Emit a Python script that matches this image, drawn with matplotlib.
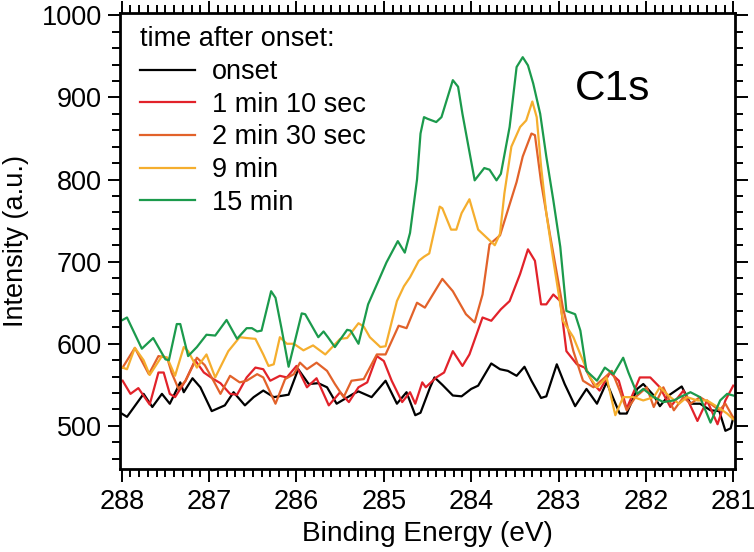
import matplotlib
matplotlib.use("Agg")
import matplotlib.pyplot as plt
from matplotlib.ticker import MultipleLocator

plt.rcParams['font.family'] = ['Liberation Sans', 'DejaVu Sans']

labels = ["onset", "1 min 10 sec", "2 min 30 sec", "9 min", "15 min"]
colors = ["#000000", "#e2222a", "#e2622a", "#f5ae2e", "#1b9a4c"]

e_onset = [288.00, 287.94, 287.75, 287.65, 287.54, 287.45, 287.33, 287.29, 287.19, 287.10,
           286.97, 286.82, 286.72, 286.59, 286.49, 286.38, 286.26, 286.09, 285.98, 285.86,
           285.75, 285.65, 285.54, 285.35, 285.29, 285.14, 284.98, 284.85, 284.74, 284.64,
           284.58, 284.47, 284.42, 284.33, 284.21, 284.11, 284.00, 283.92, 283.77, 283.67,
           283.58, 283.48, 283.39, 283.31, 283.20, 283.14, 283.02, 282.93, 282.81, 282.68,
           282.56, 282.45, 282.30, 282.22, 282.10, 282.03, 281.91, 281.84, 281.74, 281.59,
           281.49, 281.38, 281.26, 281.16, 281.09, 281.03, 281.00]
i_onset = [515, 511, 539, 523, 539, 527, 553, 541, 558, 547,
           518, 525, 541, 525, 535, 543, 535, 538, 569, 551,
           552, 547, 527, 539, 542, 535, 555, 527, 541, 513,
           516, 547, 559, 550, 537, 536, 545, 549, 576, 569,
           567, 561, 572, 555, 534, 536, 575, 551, 524, 545,
           527, 553, 515, 515, 545, 551, 537, 524, 537, 548,
           527, 527, 519, 518, 494, 497, 510]

e_1m10 = [287.99, 287.90, 287.81, 287.68, 287.58, 287.52, 287.45, 287.39, 287.27, 287.16,
          287.06, 286.95, 286.87, 286.76, 286.68, 286.57, 286.47, 286.38, 286.30, 286.19,
          286.11, 286.00, 285.88, 285.77, 285.63, 285.50, 285.40, 285.29, 285.19, 285.08,
          285.00, 284.91, 284.79, 284.70, 284.64, 284.56, 284.52, 284.40, 284.31, 284.21,
          284.10, 284.02, 283.87, 283.77, 283.66, 283.56, 283.44, 283.35, 283.27, 283.20,
          283.14, 283.06, 282.98, 282.91, 282.79, 282.70, 282.60, 282.53, 282.41, 282.31,
          282.22, 282.07, 281.95, 281.84, 281.72, 281.57, 281.41, 281.30, 281.18, 281.09,
          281.00]
i_1m10 = [555, 539, 546, 526, 565, 565, 539, 535, 555, 580,
          565, 557, 552, 539, 538, 559, 571, 569, 555, 561,
          559, 573, 547, 558, 525, 541, 529, 547, 553, 585,
          579, 555, 529, 541, 527, 553, 547, 559, 565, 591,
          573, 587, 632, 628, 642, 652, 685, 715, 701, 648,
          648, 660, 652, 591, 575, 571, 551, 543, 565, 555,
          521, 559, 559, 547, 523, 543, 506, 531, 502, 531,
          549]

e_2m30 = [287.99, 287.85, 287.69, 287.58, 287.48, 287.43, 287.35, 287.27, 287.14, 287.05,
          286.95, 286.87, 286.76, 286.65, 286.57, 286.45, 286.38, 286.24, 286.13, 286.03,
          285.96, 285.88, 285.77, 285.65, 285.56, 285.46, 285.37, 285.23, 285.08, 284.98,
          284.83, 284.74, 284.62, 284.53, 284.33, 284.21, 284.06, 283.96, 283.87, 283.79,
          283.67, 283.48, 283.41, 283.31, 283.27, 283.20, 283.10, 282.95, 282.83, 282.72,
          282.60, 282.47, 282.39, 282.30, 282.22, 282.12, 281.99, 281.91, 281.80, 281.68,
          281.57, 281.49, 281.38, 281.26, 281.16, 281.09, 281.00]
i_2m30 = [571, 595, 563, 585, 583, 565, 545, 555, 583, 574,
          555, 539, 561, 553, 555, 563, 559, 527, 557, 563,
          577, 569, 577, 567, 551, 535, 555, 557, 587, 587,
          622, 619, 650, 644, 679, 664, 636, 626, 660, 721,
          732, 797, 828, 856, 854, 797, 734, 644, 591, 555,
          547, 559, 567, 543, 519, 535, 547, 523, 547, 519,
          535, 527, 535, 527, 519, 527, 510]

e_9m = [287.99, 287.94, 287.85, 287.75, 287.68, 287.54, 287.48, 287.39, 287.29, 287.24,
        287.14, 287.03, 286.93, 286.78, 286.65, 286.57, 286.47, 286.38, 286.32, 286.26,
        286.19, 286.11, 286.03, 285.92, 285.81, 285.67, 285.50, 285.42, 285.29, 285.23,
        285.16, 285.04, 284.98, 284.85, 284.77, 284.70, 284.60, 284.54, 284.48, 284.36,
        284.33, 284.23, 284.17, 284.11, 284.02, 283.92, 283.83, 283.73, 283.67, 283.62,
        283.54, 283.44, 283.37, 283.30, 283.25, 283.20, 283.14, 283.06, 282.95, 282.83,
        282.75, 282.64, 282.56, 282.45, 282.35, 282.26, 282.14, 282.03, 281.91, 281.84,
        281.72, 281.62, 281.53, 281.41, 281.30, 281.18, 281.07, 281.00]
i_9m = [571, 569, 595, 580, 562, 585, 583, 561, 596, 591,
        571, 587, 559, 591, 608, 607, 606, 587, 573, 575,
        608, 600, 600, 592, 598, 587, 606, 607, 625, 621,
        608, 596, 597, 652, 670, 681, 701, 706, 710, 767,
        765, 739, 739, 759, 776, 739, 730, 720, 734, 783,
        840, 864, 872, 895, 876, 816, 759, 702, 628, 608,
        587, 559, 547, 559, 513, 535, 535, 531, 535, 547,
        535, 527, 535, 531, 531, 523, 515, 508]

e_15m = [287.99, 287.94, 287.77, 287.64, 287.50, 287.46, 287.37, 287.33, 287.24, 287.14,
         287.03, 286.93, 286.80, 286.68, 286.57, 286.51, 286.45, 286.40, 286.29, 286.24,
         286.17, 286.09, 285.94, 285.90, 285.75, 285.69, 285.64, 285.56, 285.42, 285.38,
         285.29, 285.18, 285.06, 284.97, 284.84, 284.76, 284.70, 284.62, 284.58, 284.54,
         284.50, 284.40, 284.34, 284.21, 284.15, 284.10, 283.96, 283.85, 283.79, 283.71,
         283.66, 283.56, 283.48, 283.41, 283.35, 283.29, 283.21, 283.14, 283.06, 282.98,
         282.91, 282.81, 282.75, 282.68, 282.56, 282.47, 282.37, 282.26, 282.20, 282.10,
         282.03, 281.91, 281.80, 281.68, 281.61, 281.49, 281.38, 281.26, 281.15, 281.07,
         281.00]
i_15m = [629, 632, 594, 607, 581, 580, 624, 624, 585, 596,
         611, 610, 629, 606, 619, 619, 615, 616, 664, 656,
         618, 572, 637, 636, 608, 615, 608, 596, 617, 616,
         600, 648, 677, 699, 725, 711, 735, 800, 856, 876,
         874, 870, 876, 921, 913, 880, 799, 814, 812, 799,
         807, 864, 937, 949, 939, 917, 880, 828, 775, 718,
         640, 636, 616, 567, 555, 571, 563, 583, 565, 539,
         545, 535, 529, 531, 535, 541, 535, 504, 531, 539,
         537]

energies = [e_onset, e_1m10, e_2m30, e_9m, e_15m]
intensities = [i_onset, i_1m10, i_2m30, i_9m, i_15m]

fs = 19.5
fig = plt.figure(figsize=(7.54, 5.52), dpi=100)
ax = fig.add_axes([120 / 754, 83 / 552, 615 / 754, 456 / 552])

for e, i, c, lab in zip(energies, intensities, colors, labels):
    ax.plot(e, i, color=c, lw=1.6, label=lab, solid_joinstyle='round')

ax.set_xlim(288.02, 280.98)
ax.set_ylim(447.5, 1002.8)
ax.xaxis.set_major_locator(MultipleLocator(1))
ax.xaxis.set_minor_locator(MultipleLocator(0.1))
ax.yaxis.set_major_locator(MultipleLocator(100))
ax.yaxis.set_minor_locator(MultipleLocator(20))

ax.tick_params(which='both', direction='out', top=True, right=True,
               labeltop=False, labelright=False, width=1.4, labelsize=fs)
ax.tick_params(which='major', length=9)
ax.tick_params(which='minor', length=5.5)
ax.tick_params(axis='x', which='major', pad=5.5)
ax.tick_params(axis='y', which='major', pad=4)
for s in ax.spines.values():
    s.set_linewidth(2)

ax.set_xlabel("Binding Energy (eV)", fontsize=20.2, labelpad=4)
ax.set_ylabel("Intensity (a.u.)", fontsize=fs, labelpad=9)

ax.text(0.8016, 0.809, "C1s", transform=ax.transAxes, fontsize=30.5,
        ha='center', va='baseline')

leg = ax.legend(loc='upper left', bbox_to_anchor=(0.0333, 0.9704), frameon=False,
                fontsize=fs, title="time after onset:", title_fontsize=fs,
                alignment='left', handlelength=2.0, handletextpad=0.65,
                labelspacing=0.245, borderaxespad=0, borderpad=0)

fig.savefig("out.png", dpi=100)
